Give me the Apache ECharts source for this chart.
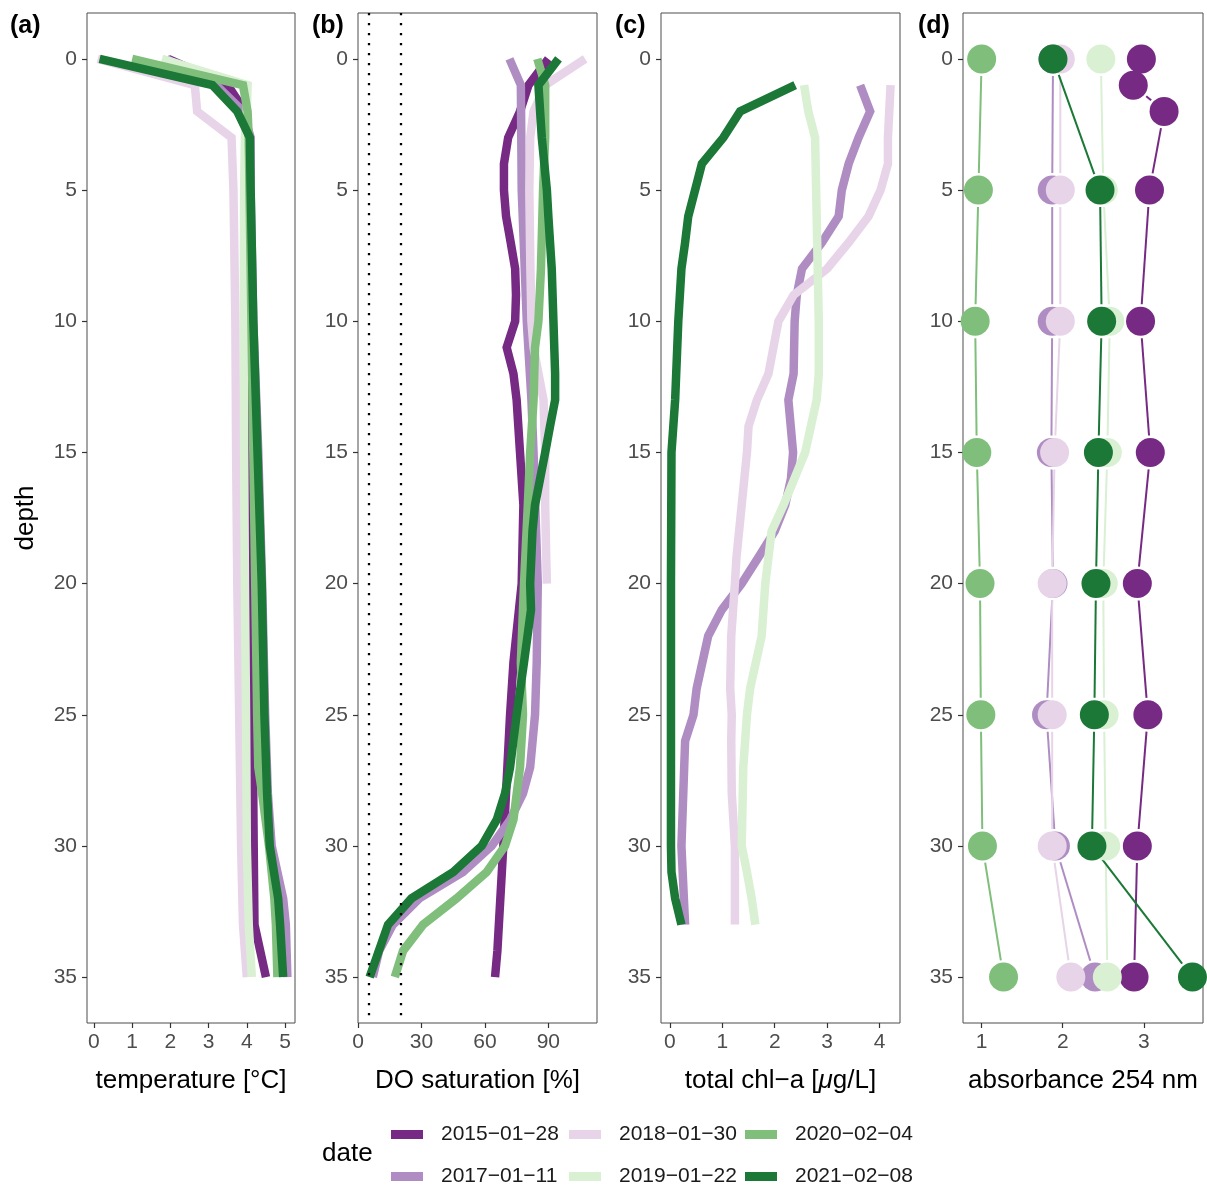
<!DOCTYPE html>
<html>
<head>
<meta charset="utf-8">
<script src="https://cdn.jsdelivr.net/npm/echarts@6/dist/echarts.min.js"></script>
<style>
  html, body { margin: 0; padding: 0; background: #fff; }
  #chart { width: 1207px; height: 1187px; }
</style>
</head>
<body>
<div id="chart"></div>
<script>
// sampling dates (legend order)
const dates = ['2015-01-28', '2017-01-11', '2018-01-30', '2019-01-22', '2020-02-04', '2021-02-08']
const dateColors = ['#762a83', '#af8dc3', '#e7d4e8', '#d9f0d3', '#7fbf7b', '#1b7837']

// [value, depth] pairs
// (a) temperature [°C]
const temp2015 = [[1.94, 0], [3.5, 1], [3.95, 2], [4.05, 3], [4.08, 5], [4.1, 10], [4.1, 15], [4.12, 20], [4.15, 25], [4.18, 30], [4.2, 33], [4.35, 34], [4.5, 35]]
const temp2017 = [[1.9, 0], [3.2, 1], [3.9, 2], [4.1, 3], [4.1, 5], [4.17, 10], [4.3, 15], [4.4, 20], [4.48, 25], [4.55, 28], [4.65, 30], [4.8, 31], [4.95, 32], [5.02, 33], [5.06, 35]]
const temp2018 = [[0.1, 0], [2.64, 1], [2.7, 2], [3.6, 3], [3.65, 5], [3.7, 10], [3.72, 15], [3.75, 20], [3.8, 25], [3.85, 30], [3.9, 33], [4.0, 35]]
const temp2019 = [[1.78, 0], [4.02, 1], [4.0, 2], [3.95, 3], [3.93, 5], [3.92, 10], [3.93, 15], [3.95, 20], [3.98, 25], [4.0, 30], [4.05, 33], [4.13, 35]]
const temp2020 = [[1.0, 0], [3.9, 1], [4.02, 2], [4.05, 3], [4.07, 5], [4.12, 10], [4.17, 15], [4.22, 20], [4.27, 25], [4.3, 27], [4.4, 28], [4.58, 30], [4.72, 32], [4.76, 33], [4.8, 35]]
const temp2021 = [[0.15, 0], [3.1, 1], [3.75, 2], [4.08, 3], [4.1, 5], [4.17, 10], [4.28, 15], [4.39, 20], [4.46, 25], [4.53, 28], [4.6, 30], [4.82, 32], [4.87, 33], [4.95, 35]]

// (b) DO saturation [%]
const do2015 = [[90, 0], [80.6, 1], [76.6, 2], [71, 3], [69, 4], [69, 5], [70, 6], [72.2, 7], [74.3, 8], [74.7, 9], [74.3, 10], [70.3, 11], [73.5, 12], [75, 13], [76.6, 15], [78.2, 17], [77.4, 20], [73.5, 23], [71.9, 25], [68.7, 30], [65.9, 34], [64.8, 35]]
const do2017 = [[71.6, 0], [77, 1], [77.4, 5], [79.8, 10], [82, 13], [83, 15], [85, 20], [84.5, 23], [83.7, 25], [81.4, 27], [78, 28], [72, 29], [63.2, 30], [49.6, 31], [29, 32], [16.5, 33], [10, 34], [7, 35]]
const do2018 = [[107.4, 0], [88.5, 1], [83, 2], [81.4, 3], [81, 5], [81.5, 8], [82, 10], [83, 11], [87.7, 13], [88.5, 15], [88.5, 17], [89, 19], [89.3, 20]]
const do2020 = [[84.8, 0], [88.5, 1], [88.5, 3], [87.5, 5], [86.5, 8], [85.3, 10], [83.7, 11], [83, 13], [81.4, 15], [80.3, 17], [78.5, 20], [77, 23], [78, 25], [76.6, 27], [73.5, 29], [69.5, 30], [60.8, 31], [46.6, 32], [30.8, 33], [21.3, 34], [17.4, 35]]
const do2021 = [[94.8, 0], [85.3, 1], [86.9, 3], [89.3, 5], [90, 6], [91.6, 8], [92.4, 10], [93.2, 12], [93.2, 13], [90.8, 14], [88.5, 15], [83.7, 17], [82.5, 18], [81.4, 20], [81.8, 21], [78.5, 23], [75, 25], [71.9, 27], [69.5, 28], [65.6, 29], [58.5, 30], [45, 31], [25.3, 32], [14.2, 33], [5.5, 35]]
const doThresholds = [5, 20]

// (c) total chl-a [µg/L]
const chl2017 = [[3.63, 1], [3.82, 2], [3.6, 3], [3.41, 4], [3.28, 5], [3.22, 6], [2.9, 7], [2.52, 8], [2.42, 9], [2.38, 10], [2.36, 12], [2.26, 13], [2.35, 15], [2.31, 16], [2.2, 17], [2.0, 18], [1.69, 19], [1.37, 20], [0.99, 21], [0.73, 22], [0.51, 24], [0.45, 25], [0.29, 26], [0.22, 30], [0.29, 33]]
const chl2018 = [[4.21, 1], [4.16, 3], [4.16, 4], [4.02, 5], [3.79, 6], [3.41, 7], [3.0, 8], [2.36, 9], [2.07, 10], [1.88, 12], [1.66, 13], [1.5, 14], [1.47, 15], [1.37, 17], [1.27, 19], [1.24, 20], [1.17, 22], [1.15, 24], [1.18, 25], [1.17, 26], [1.18, 28], [1.24, 30], [1.24, 33]]
const chl2019 = [[2.56, 1], [2.64, 2], [2.77, 3], [2.79, 5], [2.82, 8], [2.84, 10], [2.84, 12], [2.8, 13], [2.58, 15], [2.17, 17], [1.94, 18], [1.82, 20], [1.75, 22], [1.53, 24], [1.47, 25], [1.4, 27], [1.37, 30], [1.47, 31], [1.56, 32], [1.63, 33]]
const chl2021 = [[2.39, 1], [1.34, 2], [1.02, 3], [0.61, 4], [0.48, 5], [0.35, 6], [0.29, 7], [0.22, 8], [0.16, 10], [0.1, 13], [0.03, 15], [0.02, 20], [0.02, 25], [0.02, 30], [0.03, 31], [0.1, 32], [0.22, 33]]

// (d) absorbance 254 nm
const abs2015 = [[2.97, 0], [2.87, 1], [3.25, 2], [3.07, 5], [2.96, 10], [3.08, 15], [2.92, 20], [3.05, 25], [2.92, 30], [2.88, 35]]
const abs2017 = [[1.88, 0], [1.87, 5], [1.87, 10], [1.86, 15], [1.88, 20], [1.8, 25], [1.91, 30], [2.4, 35]]
const abs2018 = [[1.97, 0], [1.97, 5], [1.97, 10], [1.9, 15], [1.87, 20], [1.87, 25], [1.87, 30], [2.1, 35]]
const abs2019 = [[2.47, 0], [2.5, 5], [2.58, 10], [2.55, 15], [2.5, 20], [2.51, 25], [2.53, 30], [2.55, 35]]
const abs2020 = [[1.0, 0], [0.96, 5], [0.92, 10], [0.94, 15], [0.98, 20], [0.99, 25], [1.01, 30], [1.27, 35]]
const abs2021 = [[1.88, 0], [2.46, 5], [2.48, 10], [2.44, 15], [2.41, 20], [2.39, 25], [2.36, 30], [3.6, 35]]

const depthTicks = [0, 5, 10, 15, 20, 25, 30, 35]
const tempTicks = [0, 1, 2, 3, 4, 5]
const doTicks = [0, 30, 60, 90]
const chlTicks = [0, 1, 2, 3, 4]
const absTicks = [1, 2, 3]

const font = '"Liberation Sans", Arial, Helvetica, sans-serif'
const colorOf = name => dateColors[dates.indexOf(name)]

const panels = [
  { left: 87, width: 208, min: -0.18, max: 5.26, ticks: tempTicks, name: 'temperature [°C]', label: '(a)', labelX: 10 },
  { left: 358, width: 239, min: 0, max: 113, ticks: doTicks, name: 'DO saturation [%]', label: '(b)', labelX: 312 },
  { left: 661, width: 239, min: -0.17, max: 4.39, ticks: chlTicks, name: '{n|total chl−a [}{i|μ}{n|g/L]}', label: '(c)', labelX: 615 },
  { left: 963, width: 240, min: 0.77, max: 3.73, ticks: absTicks, name: 'absorbance 254 nm', label: '(d)', labelX: 918 },
]

const chart = echarts.init(document.getElementById('chart'))

function lineSeries(idx, name, data) {
  const c = colorOf(name)
  return {
    type: 'line', name, xAxisIndex: idx, yAxisIndex: idx, data,
    symbol: 'none', silent: true, animation: false,
    color: c, itemStyle: { color: c },
    lineStyle: { width: 8.5, color: c, cap: 'butt', join: 'miter' },
  }
}

// thin connector lines with a gap around each point (like geom_pointpath)
function segSeries(idx, name, data) {
  const c = colorOf(name)
  const segs = []
  for (let i = 0; i < data.length - 1; i++) {
    segs.push([data[i][0], data[i][1], data[i + 1][0], data[i + 1][1]])
  }
  return {
    type: 'custom', name, xAxisIndex: idx, yAxisIndex: idx, data: segs,
    silent: true, animation: false, color: c, itemStyle: { color: c },
    encode: { x: [0, 2], y: [1, 3] },
    renderItem(params, api) {
      const a = api.coord([api.value(0), api.value(1)])
      const b = api.coord([api.value(2), api.value(3)])
      const dx = b[0] - a[0], dy = b[1] - a[1]
      const len = Math.hypot(dx, dy)
      const gap = 17
      if (len <= gap * 2) return null
      const ux = dx / len, uy = dy / len
      return {
        type: 'line',
        shape: { x1: a[0] + ux * gap, y1: a[1] + uy * gap, x2: b[0] - ux * gap, y2: b[1] - uy * gap },
        style: { stroke: c, lineWidth: 2 },
      }
    },
  }
}

function pointSeries(idx, name, data) {
  const c = colorOf(name)
  return {
    type: 'scatter', name, xAxisIndex: idx, yAxisIndex: idx, data,
    symbol: 'circle', symbolSize: 29, silent: true, animation: false, z: 3,
    color: c, itemStyle: { color: c, opacity: 1 },
  }
}

const tempSets = [temp2015, temp2017, temp2018, temp2019, temp2020, temp2021]
const doSets = { '2015-01-28': do2015, '2017-01-11': do2017, '2018-01-30': do2018, '2020-02-04': do2020, '2021-02-08': do2021 }
const chlSets = { '2017-01-11': chl2017, '2018-01-30': chl2018, '2019-01-22': chl2019, '2021-02-08': chl2021 }
const absSets = [abs2015, abs2017, abs2018, abs2019, abs2020, abs2021]

const series = []
tempSets.forEach((d, i) => series.push(lineSeries(0, dates[i], d)))
Object.keys(doSets).forEach(k => series.push(lineSeries(1, k, doSets[k])))
series.push({
  type: 'line', xAxisIndex: 1, yAxisIndex: 1, data: [], silent: true, animation: false, z: 1,
  markLine: {
    silent: true, animation: false, symbol: ['none', 'none'], label: { show: false },
    lineStyle: { color: '#000', width: 2.3, type: [2.3, 7.7], cap: 'butt' },
    data: doThresholds.map(v => ({ xAxis: v })),
  },
})
Object.keys(chlSets).forEach(k => series.push(lineSeries(2, k, chlSets[k])))
absSets.forEach((d, i) => series.push(segSeries(3, dates[i], d)))
absSets.forEach((d, i) => series.push(pointSeries(3, dates[i], d)))

const option = {
  backgroundColor: '#fff',
  animation: false,
  textStyle: { fontFamily: font },
  grid: panels.map(p => ({
    left: p.left, top: 13, width: p.width, height: 1010,
    show: true, borderColor: '#4d4d4d', borderWidth: 1, backgroundColor: 'transparent',
    containLabel: false, outerBoundsMode: 'none',
  })),
  xAxis: panels.map((p, i) => ({
    type: 'value', gridIndex: i, min: p.min, max: p.max, position: 'bottom',
    axisLine: { show: false, onZero: false },
    splitLine: { show: false },
    axisTick: { show: true, length: 5, customValues: p.ticks, lineStyle: { color: '#333', width: 1.2 } },
    axisLabel: { customValues: p.ticks, margin: 9, fontSize: 21, color: '#4d4d4d', fontFamily: font },
    name: p.name, nameLocation: 'middle', nameGap: 45,
    nameTextStyle: {
      fontSize: 26, color: '#000', fontFamily: font,
      rich: {
        n: { fontSize: 26, color: '#000', fontFamily: font },
        i: { fontSize: 26, color: '#000', fontFamily: font, fontStyle: 'italic' },
      },
    },
  })),
  yAxis: panels.map((p, i) => ({
    type: 'value', gridIndex: i, inverse: true, min: -1.75, max: 36.75, position: 'left',
    axisLine: { show: false, onZero: false },
    splitLine: { show: false },
    axisTick: { show: true, length: 5, customValues: depthTicks, lineStyle: { color: '#333', width: 1.2 } },
    axisLabel: { customValues: depthTicks, margin: 10, fontSize: 21, color: '#4d4d4d', fontFamily: font },
    name: i === 0 ? 'depth' : '', nameLocation: 'middle', nameGap: 48,
    nameTextStyle: { fontSize: 26, color: '#000', fontFamily: font },
  })),
  legend: [0, 1, 2].map(c => ({
    orient: 'vertical', left: [391, 569, 745][c], top: 1124, padding: 0,
    data: dates.slice(c * 2, c * 2 + 2).map(d => ({ name: d, itemStyle: { color: colorOf(d) } })),
    icon: 'rect', itemWidth: 32, itemHeight: 9, itemGap: 21,
    selectedMode: false,
    formatter: n => n.replace(/-/g, '\u2212'),
    textStyle: { fontSize: 21, color: '#1a1a1a', fontFamily: font, padding: [0, 0, 0, 13] },
  })),
  graphic: panels.map(p => ({
    type: 'text', left: p.labelX, top: 14,
    style: { text: p.label, font: 'bold 25px ' + font, fill: '#000' },
  })).concat([{
    type: 'text', left: 322, top: 1141,
    style: { text: 'date', font: '26px ' + font, fill: '#000' },
  }]),
  series,
}

chart.setOption(option)
</script>
</body>
</html>
